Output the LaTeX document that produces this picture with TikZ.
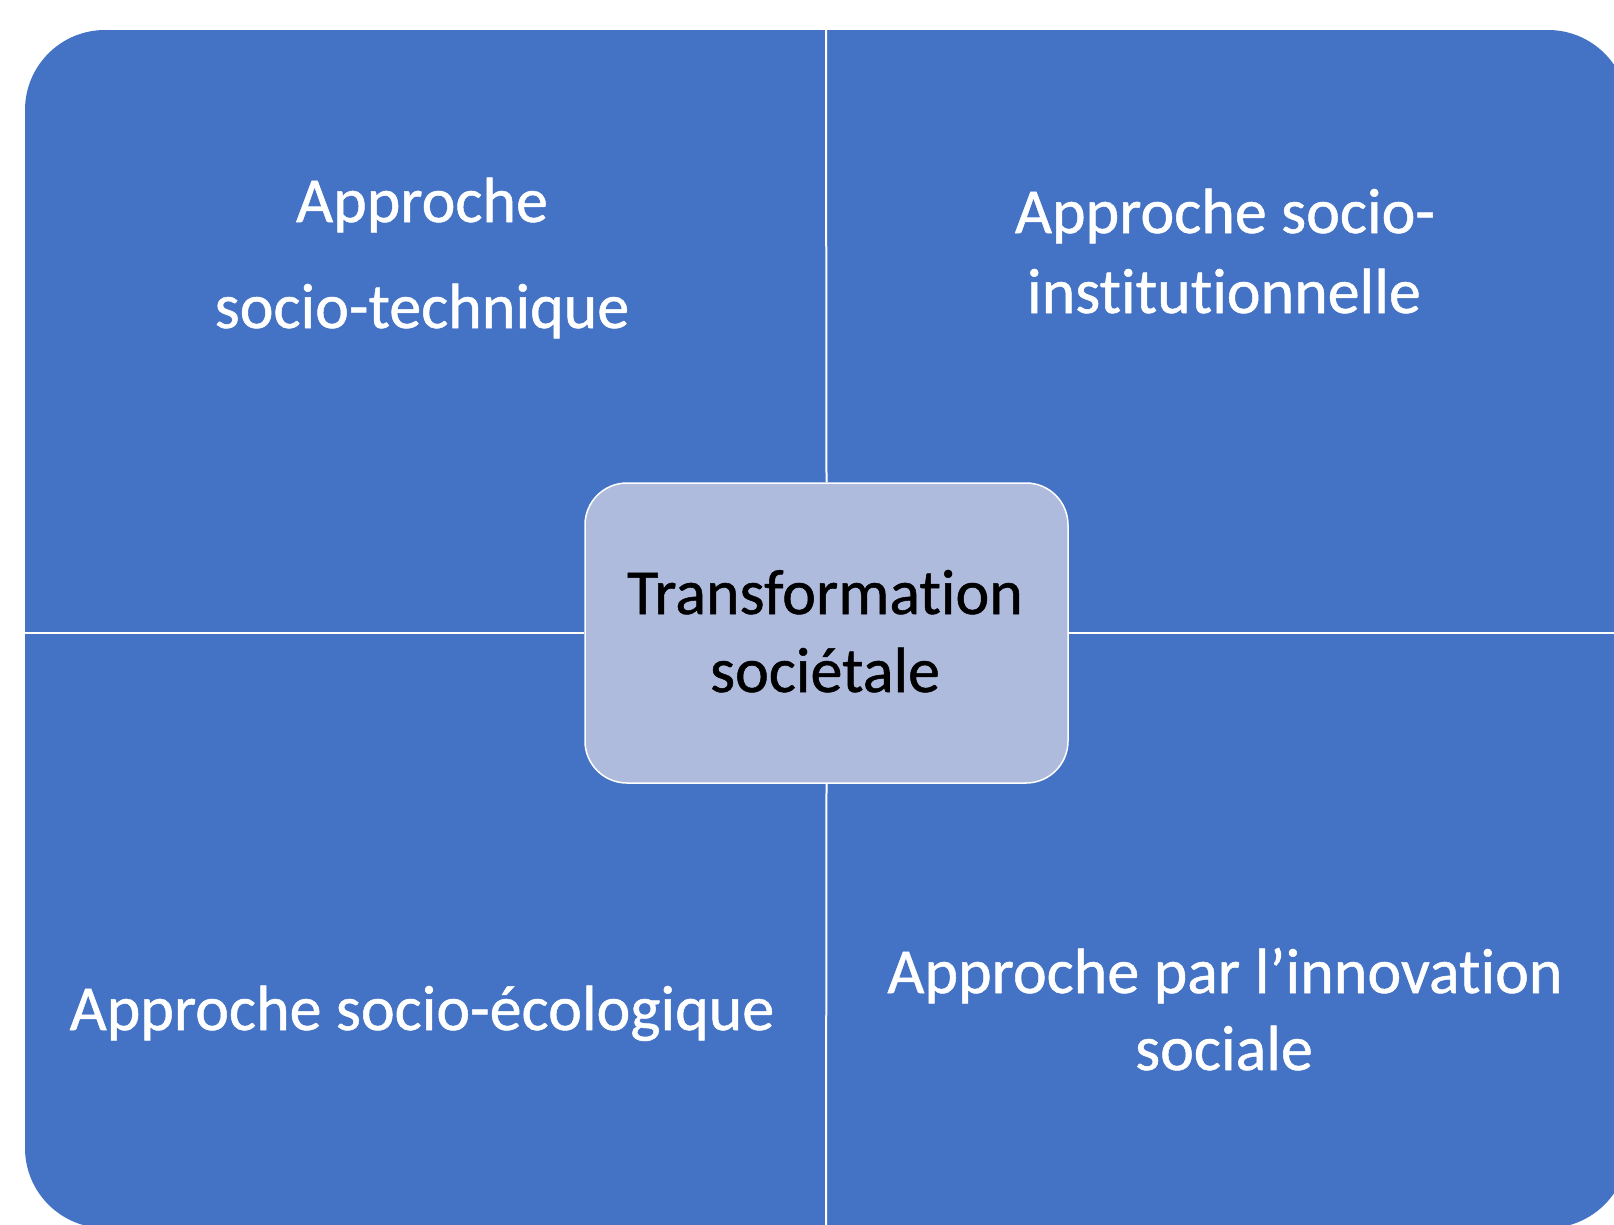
\documentclass[tikz,border=0pt]{standalone}
\usepackage{fontspec}
\setmainfont[Ligatures=NoCommon,FakeBold=0.8]{Carlito}
\definecolor{quadblue}{RGB}{68,114,196}
\definecolor{centrefill}{RGB}{175,187,221}
\begin{document}
\begin{tikzpicture}[x=1pt,y=-1pt,
  divider/.style={draw=white,line width=2pt},
  quadtext/.style={text=white,anchor=base,inner sep=0pt,font=\fontsize{64}{70}\selectfont},
  centretext/.style={text=black,anchor=base,inner sep=0pt,font=\fontsize{64}{70}\selectfont},
  centrebox/.style={draw=white,line width=1.5pt,fill=centrefill,rounded corners=42pt,
    minimum width=483pt,minimum height=300pt,inner sep=0pt}]
\useasboundingbox (0,0) rectangle (1614,1224);
\clip (0,0) rectangle (1614,1224);
\fill[white] (0,0) rectangle (1614,1224);
\fill[quadblue,rounded corners=80pt] (25,30) rectangle (1628,1228);
\coordinate (ctop) at (826,30);
\coordinate (cbottom) at (826,1228);
\coordinate (cleft) at (25,633);
\coordinate (cright) at (1628,633);
\node[centrebox] (centre) at (826.5,633) {};
\draw[divider] (ctop) -- (centre.north);
\draw[divider] (centre.south) -- (cbottom);
\draw[divider] (cleft) -- (centre.west);
\draw[divider] (centre.east) -- (cright);
\node[centretext] (ct1) at (825,614) {Transformation};
\node[centretext] (ct2) at (825,692) {sociétale};
\node[quadtext] (tl1) at (422,222) {Approche};
\node[quadtext] (tl2) at (422,328) {socio-technique};
\node[quadtext] (tr1) at (1225,233) {Approche socio-};
\node[quadtext] (tr2) at (1224,313) {institutionnelle};
\node[quadtext] (bl1) at (422,1030) {Approche socio-écologique};
\node[quadtext] (br1) at (1225,993) {Approche par l’innovation};
\node[quadtext] (br2) at (1224,1070) {sociale};
\end{tikzpicture}
\end{document}
